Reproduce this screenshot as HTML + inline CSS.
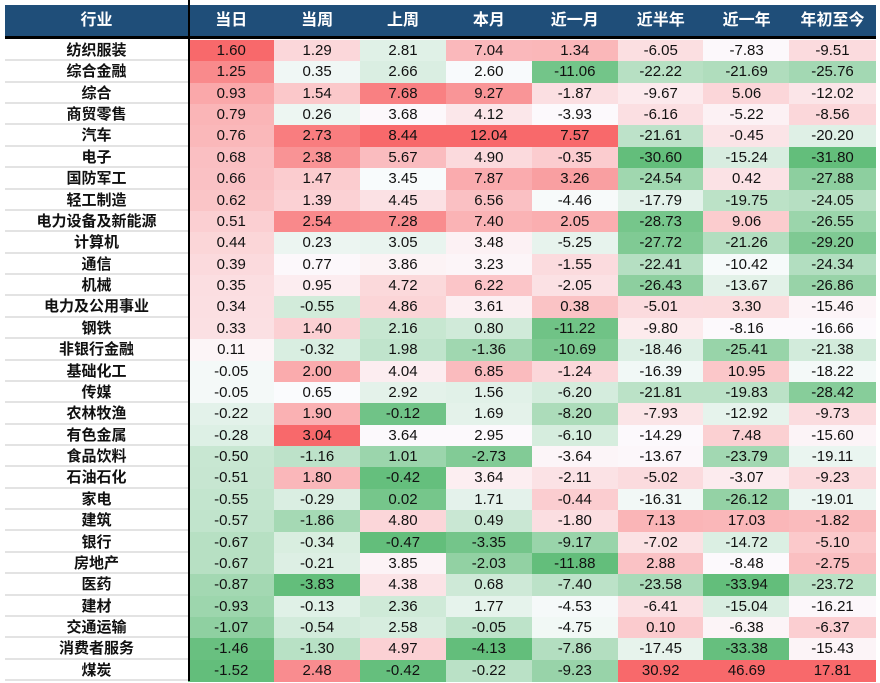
<!DOCTYPE html>
<html><head><meta charset="utf-8">
<style>
body{margin:0;width:880px;height:683px;background:#fff;overflow:hidden;font-family:"Liberation Sans","Noto Sans CJK SC",sans-serif;}
#tbl{position:absolute;left:5px;top:5px;width:871px;}
.hdr{position:absolute;top:0;height:31px;background:#1f4e79;color:#fff;font-weight:bold;font-size:16px;line-height:31px;text-align:center;}
.cell{position:absolute;height:21.37px;line-height:21.37px;text-align:center;font-size:15px;color:#111;box-sizing:border-box;}
.name{font-weight:bold;border-bottom:2px solid #e3e3e3;background:#fff;}
</style></head><body>
<div id="tbl"></div>
<script>
const industries=["纺织服装","综合金融","综合","商贸零售","汽车","电子","国防军工","轻工制造","电力设备及新能源","计算机","通信","机械","电力及公用事业","钢铁","非银行金融","基础化工","传媒","农林牧渔","有色金属","食品饮料","石油石化","家电","建筑","银行","房地产","医药","建材","交通运输","消费者服务","煤炭"];
const periods=["当日","当周","上周","本月","近一月","近半年","近一年","年初至今"];
const dayVals=[1.60,1.25,0.93,0.79,0.76,0.68,0.66,0.62,0.51,0.44,0.39,0.35,0.34,0.33,0.11,-0.05,-0.05,-0.22,-0.28,-0.50,-0.51,-0.55,-0.57,-0.67,-0.67,-0.87,-0.93,-1.07,-1.46,-1.52];
const weekVals=[1.29,0.35,1.54,0.26,2.73,2.38,1.47,1.39,2.54,0.23,0.77,0.95,-0.55,1.40,-0.32,2.00,0.65,1.90,3.04,-1.16,1.80,-0.29,-1.86,-0.34,-0.21,-3.83,-0.13,-0.54,-1.30,2.48];
const lastWeekVals=[2.81,2.66,7.68,3.68,8.44,5.67,3.45,4.45,7.28,3.05,3.86,4.72,4.86,2.16,1.98,4.04,2.92,-0.12,3.64,1.01,-0.42,0.02,4.80,-0.47,3.85,4.38,2.36,2.58,4.97,-0.42];
const monthVals=[7.04,2.60,9.27,4.12,12.04,4.90,7.87,6.56,7.40,3.48,3.23,6.22,3.61,0.80,-1.36,6.85,1.56,1.69,2.95,-2.73,3.64,1.71,0.49,-3.35,-2.03,0.68,1.77,-0.05,-4.13,-0.22];
const m1Vals=[1.34,-11.06,-1.87,-3.93,7.57,-0.35,3.26,-4.46,2.05,-5.25,-1.55,-2.05,0.38,-11.22,-10.69,-1.24,-6.20,-8.20,-6.10,-3.64,-2.11,-0.44,-1.80,-9.17,-11.88,-7.40,-4.53,-4.75,-7.86,-9.23];
const h1Vals=[-6.05,-22.22,-9.67,-6.16,-21.61,-30.60,-24.54,-17.79,-28.73,-27.72,-22.41,-26.43,-5.01,-9.80,-18.46,-16.39,-21.81,-7.93,-14.29,-13.67,-5.02,-16.31,7.13,-7.02,2.88,-23.58,-6.41,0.10,-17.45,30.92];
const y1Vals=[-7.83,-21.69,5.06,-5.22,-0.45,-15.24,0.42,-19.75,9.06,-21.26,-10.42,-13.67,3.30,-8.16,-25.41,10.95,-19.83,-12.92,7.48,-23.79,-3.07,-26.12,17.03,-14.72,-8.48,-33.94,-15.04,-6.38,-33.38,46.69];
const ytdVals=[-9.51,-25.76,-12.02,-8.56,-20.20,-31.80,-27.88,-24.05,-26.55,-29.20,-24.34,-26.86,-15.46,-16.66,-21.38,-18.22,-28.42,-9.73,-15.60,-19.11,-9.23,-19.01,-1.82,-5.10,-2.75,-23.72,-16.21,-6.37,-15.43,17.81];
const cols=[dayVals,weekVals,lastWeekVals,monthVals,m1Vals,h1Vals,y1Vals,ytdVals];
const colNames=["day","week","last-week","month","1m","6m","1y","ytd"];

const T=document.getElementById('tbl');
const nameW=183, colW=85.9, hdrH=31, top0=35, rowH=21.37;
function mix(a,b,t){return a.map((v,i)=>Math.round(v+(b[i]-v)*t));}
const RED=[248,105,107],WHITE=[252,252,255],GREEN=[99,190,123];
function colorFor(v,arr){
  const s=[...arr].sort((a,b)=>a-b);const mn=s[0],mx=s[s.length-1];
  const n=s.length,med=(s[(n-1)>>1]+s[n>>1])/2;
  let c;
  if(v>=med)c=mix(WHITE,RED,mx===med?0:(v-med)/(mx-med));
  else c=mix(WHITE,GREEN,(med-v)/(med-mn));
  return `rgb(${c[0]},${c[1]},${c[2]})`;
}
let h=document.createElement('div');h.className='hdr';h.style.left='0px';h.style.width=nameW+'px';h.textContent='行业';


T.appendChild(h);
periods.forEach((p,j)=>{
  const d=document.createElement('div');d.className='hdr';d.style.left=(nameW+j*colW)+'px';d.style.width=(colW+0.5)+'px';d.textContent=p;
  
  
  T.appendChild(d);
});
const line=document.createElement('div');line.style.cssText=`position:absolute;left:0;top:${hdrH}px;width:871px;height:3px;background:#000`;


T.appendChild(line);
industries.forEach((ind,i)=>{
  const y=top0+i*rowH;
  const n=document.createElement('div');n.className='cell name';n.style.left='0px';n.style.top=y+'px';n.style.width=nameW+'px';n.textContent=ind;
  
  
  T.appendChild(n);
  cols.forEach((arr,j)=>{
    const c=document.createElement('div');c.className='cell';
    c.style.left=(nameW+j*colW)+'px';c.style.top=y+'px';c.style.width=(colW+0.5)+'px';c.style.height=(rowH+0.5)+'px';
    c.style.background=colorFor(arr[i],arr);
    c.textContent=arr[i].toFixed(2);
    
    
    T.appendChild(c);
  });
});
const v=document.createElement('div');v.style.cssText=`position:absolute;left:${nameW}px;top:-5px;width:2px;height:${top0+30*rowH+5}px;background:#000`;


T.appendChild(v);
</script>
</body></html>
